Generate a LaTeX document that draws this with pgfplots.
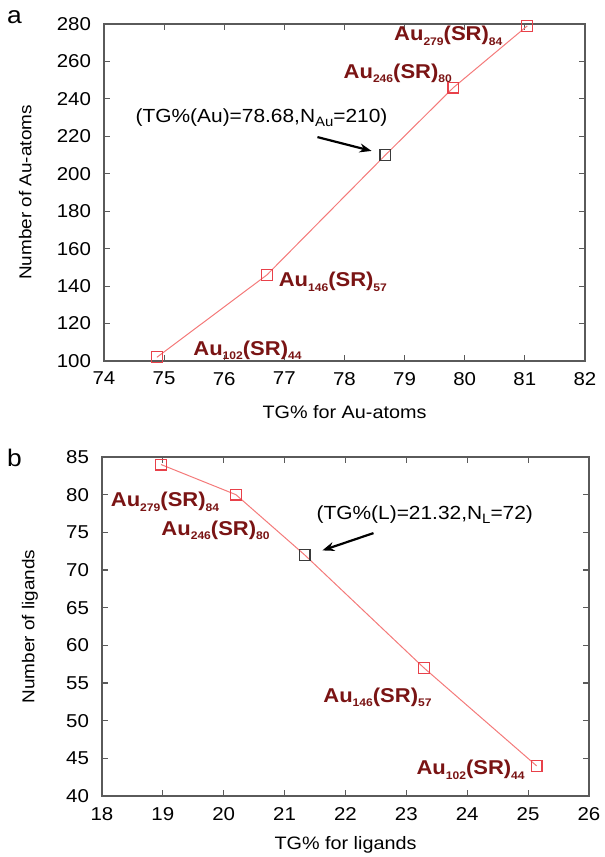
\documentclass[border=0pt]{standalone}
\usepackage{fontspec}
\setmainfont[FakeStretch=1.1]{Liberation Sans}
\usepackage{pgfplots}
\pgfplotsset{compat=1.18}
\usetikzlibrary{arrows.meta}

\definecolor{lineRed}{HTML}{F47A7A}
\definecolor{markRed}{HTML}{E8414A}
\definecolor{labRed}{HTML}{7A1414}
\definecolor{axGray}{HTML}{5A5A5A}
\definecolor{ptGray}{HTML}{3A3A3A}

\newcommand{\sub}[1]{\raisebox{-2.2pt}{\fontsize{5.5}{6}\selectfont #1}}
\newcommand{\cl}[2]{\fontsize{10}{12}\selectfont\bfseries Au\sub{#1}(SR)\sub{#2}}
\newcommand{\nsub}[1]{\raisebox{-2pt}{\fontsize{6.8}{7}\selectfont #1}}

\tikzset{cluster/.style={anchor=base west, inner sep=0pt, text=labRed}}

\pgfplotsset{
  tgpanel/.style={
    scale only axis,
    clip=false,
    axis line style={axGray, line width=0.6pt},
    tick style={axGray, line width=0.6pt},
    major tick length=3pt,
    tick align=inside,
    tick label style={font=\fontsize{9.3}{11}\selectfont, /pgf/number format/assume math mode=true},
    xlabel style={font=\fontsize{9}{11}\selectfont},
    ylabel style={font=\fontsize{8.6}{11}\selectfont},
    yticklabel style={xshift=-3pt},
    xticklabel style={yshift=-2pt},
    every axis plot/.append style={line width=0.5pt},
  },
}

\begin{document}
\begin{tikzpicture}
\useasboundingbox (0,0) rectangle (302.5pt,-428.5pt);

% panel a
\begin{axis}[
  tgpanel,
  at={(52pt,-180.5pt)}, anchor=south west,
  width=240.5pt, height=168.5pt,
  xmin=74, xmax=82, ymin=100, ymax=280,
  xtick distance=1, ytick distance=20,
  xlabel={TG\% for Au-atoms},
  ylabel={Number of Au-atoms},
  xlabel style={at={(axis description cs:0.5,-0.151)}, anchor=center},
  ylabel style={at={(axis description cs:-0.164,0.5)}, anchor=center},
]
\addplot[lineRed, mark=square, mark size=2.7pt, mark options={markRed, solid, line width=0.6pt}]
  coordinates {(74.88,102) (76.71,146) (78.68,210) (79.81,246) (81.04,279)};
\addplot[only marks, mark=square, mark size=2.7pt, mark options={ptGray, line width=0.7pt}]
  coordinates {(78.68,210)};
\node[cluster] at (axis cs:78.82,271) {\cl{279}{84}};
\node[cluster] at (axis cs:77.98,251) {\cl{246}{80}};
\node[cluster] at (axis cs:76.90,139.6) {\cl{146}{57}};
\node[cluster] at (axis cs:75.48,103.2) {\cl{102}{44}};
\node[anchor=base west, inner sep=0pt, font=\fontsize{9.5}{11}\selectfont]
  at (axis cs:74.52,227.6) {(TG\%(Au)=78.68,N\nsub{Au}=210)};
\draw[-{Stealth[length=6pt, width=4.5pt]}, line width=1.1pt] (axis cs:77.55,219.6) -- (axis cs:78.45,212.2);
\node[font=\fontsize{12}{14}\selectfont] at (axis description cs:-0.186,1.019) {a};
\end{axis}

% panel b
\begin{axis}[
  tgpanel,
  at={(51pt,-398pt)}, anchor=south west,
  width=243.5pt, height=169.5pt,
  xmin=18, xmax=26, ymin=40, ymax=85,
  xtick distance=1, ytick distance=5,
  xlabel={TG\% for ligands},
  ylabel={Number of ligands},
  xlabel style={at={(axis description cs:0.5,-0.145)}, anchor=center},
  ylabel style={at={(axis description cs:-0.148,0.5)}, anchor=center},
]
\addplot[lineRed, mark=square, mark size=2.7pt, mark options={markRed, solid, line width=0.6pt}]
  coordinates {(18.97,84) (20.20,80) (21.33,72) (23.29,57) (25.14,44)};
\addplot[only marks, mark=square, mark size=2.7pt, mark options={ptGray, line width=0.7pt}]
  coordinates {(21.33,72)};
\node[cluster] at (axis cs:18.14,78.4) {\cl{279}{84}};
\node[cluster] at (axis cs:18.97,74.6) {\cl{246}{80}};
\node[cluster] at (axis cs:21.63,52.4) {\cl{146}{57}};
\node[cluster] at (axis cs:23.16,42.8) {\cl{102}{44}};
\node[anchor=base west, inner sep=0pt, font=\fontsize{9.5}{11}\selectfont]
  at (axis cs:21.52,76.65) {(TG\%(L)=21.32,N\nsub{L}=72)};
\draw[-{Stealth[length=6pt, width=4.5pt]}, line width=1.1pt] (axis cs:22.46,74.9) -- (axis cs:21.62,72.6);
\node[font=\fontsize{12}{14}\selectfont] at (axis description cs:-0.18,0.996) {b};
\end{axis}
\end{tikzpicture}
\end{document}
